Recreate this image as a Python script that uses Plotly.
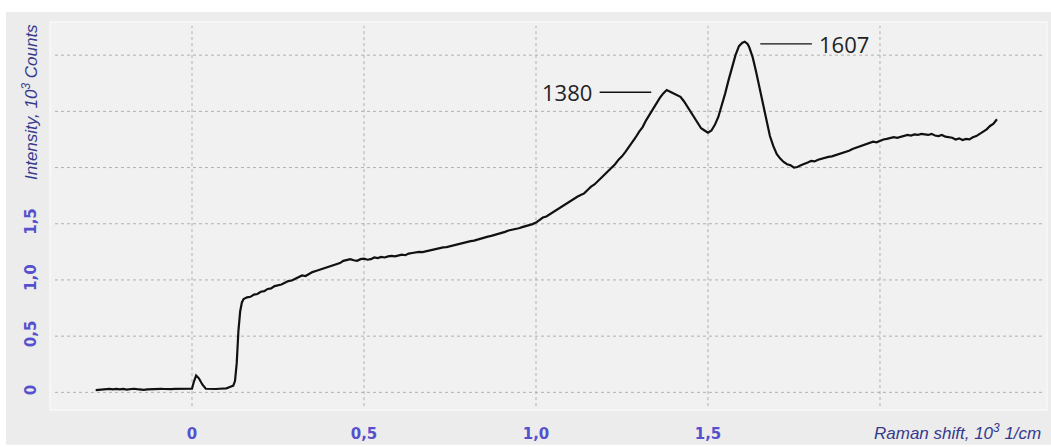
import plotly.graph_objects as go

# Raman spectrum (shift in 10^3 1/cm, intensity in 10^3 counts)
shift = [
    -0.28, -0.27, -0.26, -0.25, -0.24, -0.23, -0.22, -0.21, -0.20, -0.19,
    -0.18, -0.17, -0.16, -0.15, -0.14, -0.13, -0.12, -0.11, -0.10, -0.09,
    -0.08, -0.07, -0.06, -0.05, -0.04, -0.03, -0.02, -0.01, 0.0, 0.005,
    0.012, 0.02, 0.03, 0.04, 0.05, 0.06, 0.07, 0.08, 0.09, 0.10,
    0.11, 0.12, 0.125, 0.13, 0.135, 0.14, 0.145, 0.15, 0.16, 0.17,
    0.18, 0.19, 0.20, 0.21, 0.22, 0.23, 0.24, 0.25, 0.26, 0.27,
    0.28, 0.29, 0.30, 0.31, 0.32, 0.33, 0.34, 0.35, 0.36, 0.37,
    0.38, 0.39, 0.40, 0.41, 0.42, 0.43, 0.44, 0.45, 0.46, 0.47,
    0.48, 0.49, 0.50, 0.51, 0.52, 0.53, 0.54, 0.55, 0.56, 0.57,
    0.58, 0.59, 0.60, 0.61, 0.62, 0.63, 0.64, 0.65, 0.66, 0.67,
    0.68, 0.69, 0.70, 0.71, 0.72, 0.73, 0.74, 0.75, 0.76, 0.77,
    0.78, 0.79, 0.80, 0.81, 0.82, 0.83, 0.84, 0.85, 0.86, 0.87,
    0.88, 0.89, 0.90, 0.91, 0.92, 0.93, 0.94, 0.95, 0.96, 0.97,
    0.98, 0.99, 1.00, 1.01, 1.02, 1.03, 1.04, 1.05, 1.06, 1.07,
    1.08, 1.09, 1.10, 1.11, 1.12, 1.13, 1.14, 1.15, 1.16, 1.17,
    1.18, 1.19, 1.20, 1.21, 1.22, 1.23, 1.24, 1.25, 1.26, 1.27,
    1.28, 1.29, 1.30, 1.31, 1.32, 1.33, 1.34, 1.35, 1.36, 1.37,
    1.38, 1.39, 1.40, 1.41, 1.42, 1.43, 1.44, 1.45, 1.46, 1.47,
    1.48, 1.49, 1.50, 1.51, 1.52, 1.53, 1.54, 1.55, 1.56, 1.57,
    1.58, 1.59, 1.60, 1.607, 1.615, 1.62, 1.63, 1.64, 1.65, 1.66,
    1.67, 1.68, 1.69, 1.70, 1.71, 1.72, 1.73, 1.74, 1.75, 1.76,
    1.77, 1.78, 1.79, 1.80, 1.81, 1.82, 1.83, 1.84, 1.85, 1.86,
    1.87, 1.88, 1.89, 1.90, 1.91, 1.92, 1.93, 1.94, 1.95, 1.96,
    1.97, 1.98, 1.99, 2.00, 2.01, 2.02, 2.03, 2.04, 2.05, 2.06,
    2.07, 2.08, 2.09, 2.10, 2.11, 2.12, 2.13, 2.14, 2.15, 2.16,
    2.17, 2.18, 2.19, 2.20, 2.21, 2.22, 2.23, 2.24, 2.25, 2.26,
    2.27, 2.28, 2.29, 2.30, 2.31, 2.32, 2.33, 2.34,
]
intensity = [
    0.020, 0.024, 0.022, 0.028, 0.030, 0.026, 0.031, 0.027, 0.030, 0.025,
    0.029, 0.032, 0.028, 0.024, 0.022, 0.027, 0.029, 0.025, 0.028, 0.031,
    0.030, 0.026, 0.028, 0.031, 0.030, 0.029, 0.031, 0.030, 0.032, 0.090,
    0.150, 0.125, 0.070, 0.032, 0.030, 0.031, 0.030, 0.032, 0.031, 0.036,
    0.048, 0.060, 0.100, 0.260, 0.550, 0.720, 0.800, 0.830, 0.845, 0.850,
    0.870, 0.875, 0.895, 0.900, 0.920, 0.925, 0.945, 0.950, 0.960, 0.975,
    0.990, 0.995, 1.010, 1.030, 1.040, 1.035, 1.055, 1.070, 1.080, 1.090,
    1.100, 1.115, 1.120, 1.130, 1.145, 1.150, 1.170, 1.180, 1.185, 1.175,
    1.170, 1.185, 1.190, 1.180, 1.185, 1.200, 1.195, 1.205, 1.200, 1.210,
    1.215, 1.210, 1.220, 1.225, 1.220, 1.235, 1.240, 1.245, 1.250, 1.248,
    1.255, 1.265, 1.270, 1.275, 1.280, 1.290, 1.292, 1.300, 1.310, 1.315,
    1.320, 1.330, 1.340, 1.345, 1.350, 1.360, 1.370, 1.375, 1.385, 1.392,
    1.400, 1.410, 1.420, 1.428, 1.440, 1.445, 1.452, 1.460, 1.470, 1.478,
    1.490, 1.497, 1.510, 1.530, 1.555, 1.565, 1.585, 1.600, 1.620, 1.640,
    1.660, 1.680, 1.700, 1.720, 1.740, 1.755, 1.770, 1.800, 1.830, 1.850,
    1.880, 1.910, 1.940, 1.965, 2.000, 2.030, 2.070, 2.100, 2.140, 2.180,
    2.220, 2.270, 2.320, 2.360, 2.420, 2.470, 2.530, 2.570, 2.620, 2.660,
    2.690, 2.675, 2.660, 2.650, 2.630, 2.590, 2.540, 2.500, 2.440, 2.400,
    2.350, 2.330, 2.310, 2.330, 2.380, 2.450, 2.550, 2.660, 2.780, 2.900,
    3.000, 3.080, 3.110, 3.120, 3.100, 3.070, 2.980, 2.850, 2.700, 2.550,
    2.400, 2.280, 2.190, 2.120, 2.080, 2.050, 2.030, 2.020, 2.000, 2.005,
    2.020, 2.030, 2.045, 2.060, 2.055, 2.070, 2.080, 2.085, 2.095, 2.100,
    2.110, 2.120, 2.125, 2.140, 2.150, 2.165, 2.175, 2.185, 2.200, 2.205,
    2.215, 2.230, 2.225, 2.240, 2.250, 2.255, 2.260, 2.270, 2.265, 2.275,
    2.280, 2.290, 2.285, 2.295, 2.290, 2.300, 2.295, 2.290, 2.300, 2.285,
    2.280, 2.290, 2.275, 2.270, 2.265, 2.250, 2.260, 2.245, 2.255, 2.250,
    2.270, 2.280, 2.300, 2.320, 2.340, 2.370, 2.390, 2.430,
]

# Labelled band positions (1/cm) and the intensity at each band top
peak_labels = ["1380", "1607"]
peak_shift = [1.380, 1.607]
peak_height = [2.690, 3.120]

x_ticks = [0.0, 0.5, 1.0, 1.5]
x_tick_text = ["0", "0,5", "1,0", "1,5"]
x_grid = [0.0, 0.5, 1.0, 1.5, 2.0]
y_ticks = [0.0, 0.5, 1.0, 1.5]
y_tick_text = ["0", "0,5", "1,0", "1,5"]
y_grid = [0.0, 0.5, 1.0, 1.5, 2.0, 2.5, 3.0]

TICK_BLUE = "#5650cc"
TITLE_BLUE = "#363a8c"
GRID = "#b0b0b0"
TICK_FONT = dict(family="DejaVu Sans, Verdana, sans-serif", size=15,
                 color=TICK_BLUE, weight="bold")

fig = go.Figure()
fig.add_trace(go.Scatter(
    x=shift, y=intensity, mode="lines",
    line=dict(color="#111111", width=2.2),
    showlegend=False, hoverinfo="skip",
))

# Leader lines: left of the first band, right of the second
for label, px, py, side in zip(peak_labels, peak_shift, peak_height, [-1, 1]):
    gap, length = 0.045, 0.15
    x_near = px + side * gap
    x_far = px + side * (gap + length)
    fig.add_shape(type="line", xref="x", yref="y",
                  x0=x_near, x1=x_far, y0=py - 0.02, y1=py - 0.02,
                  line=dict(color="#111111", width=1.3))
    fig.add_annotation(
        x=x_far + side * 0.015, y=py - 0.02, xref="x", yref="y",
        text=label, showarrow=False,
        xanchor="left" if side > 0 else "right", yanchor="middle",
        font=dict(family="Open Sans", size=22, color="#222222"),
    )

# Window panel behind the plot
fig.add_shape(type="rect", xref="paper", yref="paper", layer="below",
              x0=-44 / 997, x1=1.01, y0=-35 / 390, y1=1 + 10 / 390,
              fillcolor="#ececec", line=dict(width=0))
fig.add_shape(type="rect", xref="paper", yref="paper", layer="below",
              x0=0, x1=1, y0=0, y1=1,
              fillcolor="#f1f1f1", line=dict(color="#f8f8f8", width=1.5))

# Axis titles
fig.add_annotation(
    xref="paper", yref="paper", x=-20 / 997, y=1.0,
    xanchor="center", yanchor="top", textangle=-90, showarrow=False,
    text="<i>Intensity, 10<sup>3</sup> Counts</i>",
    font=dict(family="Liberation Sans", size=17, color=TITLE_BLUE),
)
fig.add_annotation(
    xref="paper", yref="paper", x=0.996, y=-22 / 390,
    xanchor="right", yanchor="middle", showarrow=False,
    text="<i>Raman shift, 10<sup>3</sup> 1/cm</i>",
    font=dict(family="Liberation Sans", size=17, color=TITLE_BLUE),
)

# Dotted grid drawn at the full set of division values
for gx in x_grid:
    fig.add_shape(type="line", xref="x", yref="paper", layer="below",
                  x0=gx, x1=gx, y0=0.01, y1=0.99,
                  line=dict(color=GRID, width=1, dash="dot"))
for gy in y_grid:
    fig.add_shape(type="line", xref="paper", yref="y", layer="below",
                  x0=0.005, x1=0.995, y0=gy, y1=gy,
                  line=dict(color=GRID, width=1, dash="dot"))

fig.update_xaxes(
    range=[-0.4128, 2.4855], showgrid=False, zeroline=False,
    showline=False, ticks="",
    tickvals=x_ticks, ticktext=x_tick_text, tickfont=TICK_FONT,
    ticklabelstandoff=13,
)
fig.update_yaxes(
    range=[-0.157, 3.295], showgrid=False, zeroline=False,
    showline=False, ticks="",
    tickvals=y_ticks, ticktext=y_tick_text, tickangle=-90, tickfont=TICK_FONT,
    ticklabelstandoff=10,
)

fig.update_layout(
    width=1051, height=447,
    margin=dict(l=50, r=4, t=22, b=35),
    paper_bgcolor="#ffffff", plot_bgcolor="rgba(0,0,0,0)",
)

fig.write_html("out.html")
